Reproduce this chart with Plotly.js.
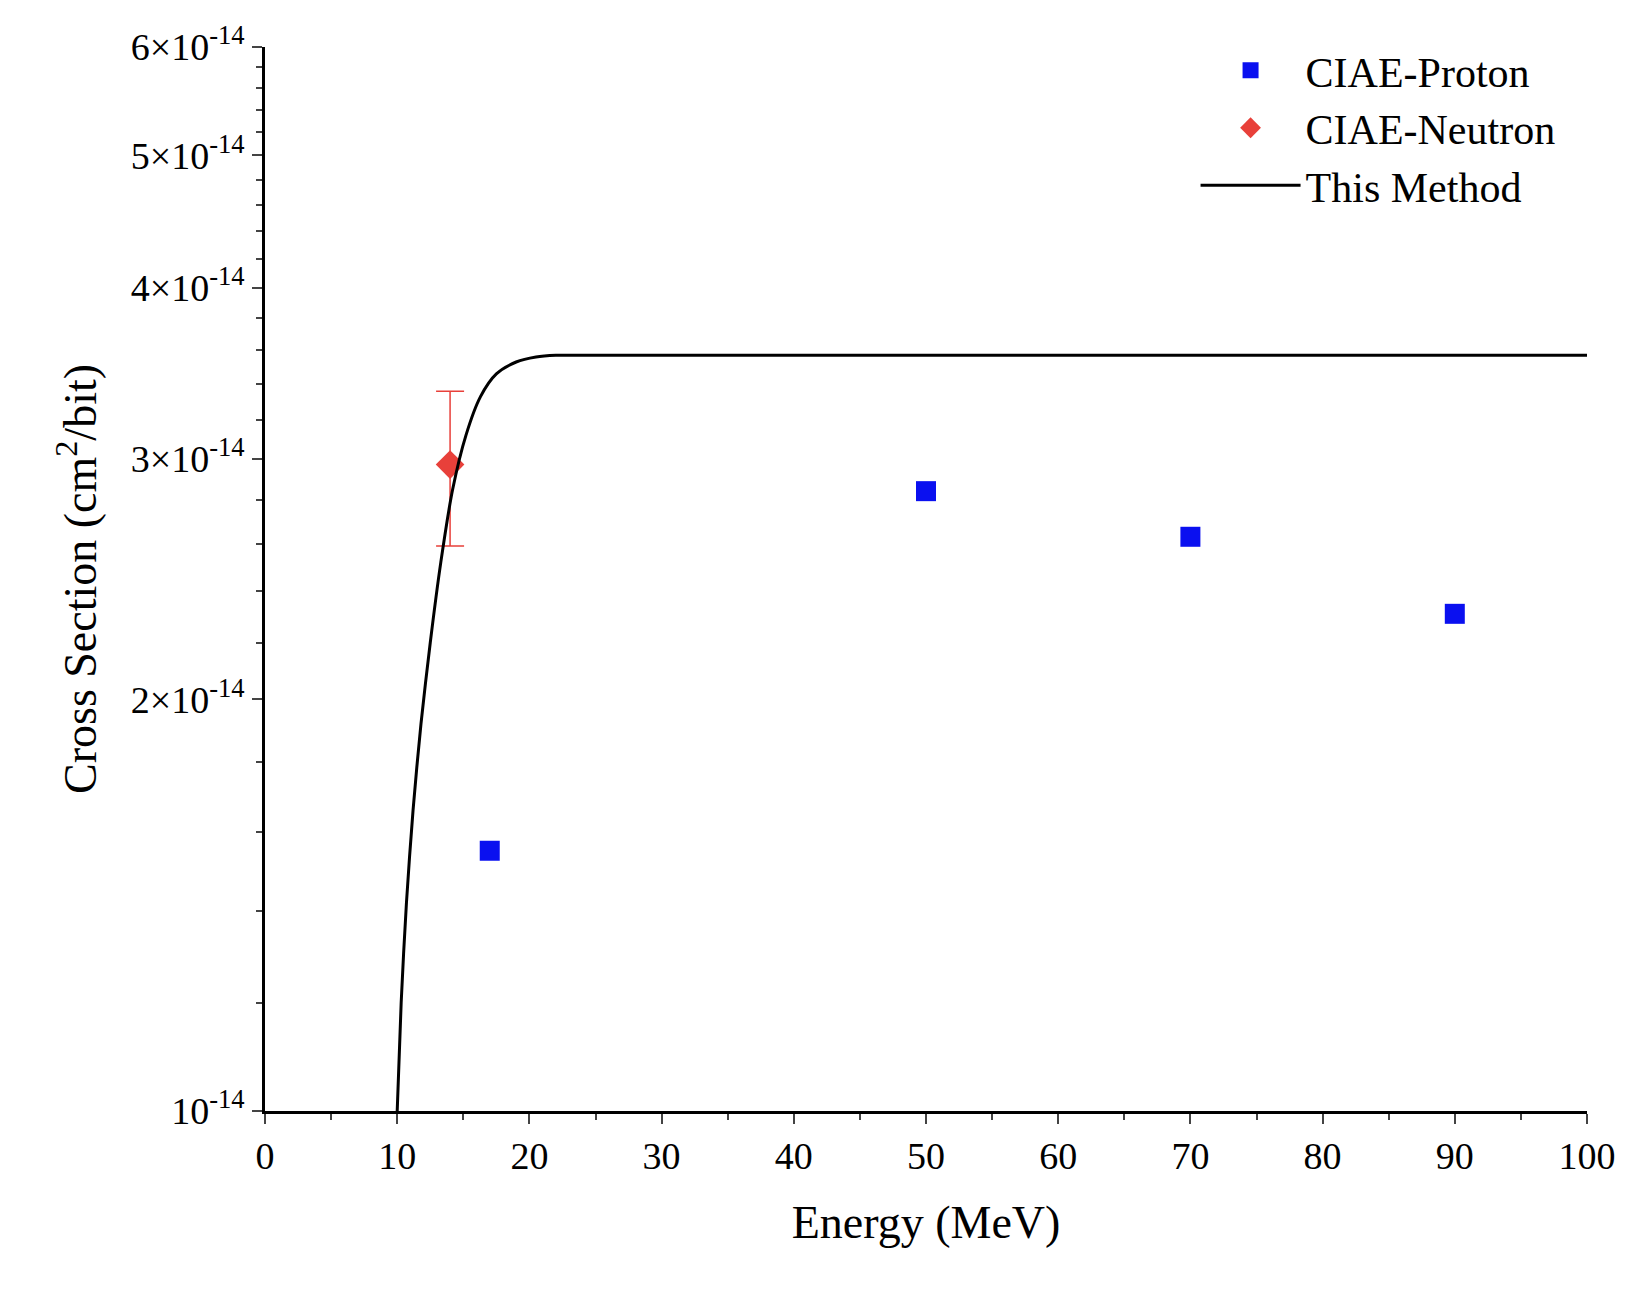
<!DOCTYPE html>
<html><head><script src="https://cdn.plot.ly/plotly-3.0.1.min.js"></script></head>
<body style="margin:0"><div id="plot" style="width:1635px;height:1289px"></div>
<script>
var protonE = [17, 50, 70, 90];
var protonXS = [1.55e-14, 2.84e-14, 2.63e-14, 2.31e-14];
var neutronE = [14];
var neutronXS = [2.97e-14];
var neutronErrUp = [0.39e-14];
var neutronErrDown = [0.38e-14];
var methodE = [10, 10.3, 10.7, 11.2, 11.8, 12.5, 13.3, 14.2, 15.2, 16.3, 17.5, 19, 20.5, 22, 25, 40, 60, 80, 100];
var methodXS = [1.0e-14, 1.2e-14, 1.42e-14, 1.66e-14, 1.92e-14, 2.2e-14, 2.52e-14, 2.85e-14, 3.12e-14, 3.33e-14, 3.46e-14, 3.53e-14, 3.56e-14, 3.57e-14, 3.57e-14, 3.57e-14, 3.57e-14, 3.57e-14, 3.57e-14];
var yTicks = [1e-14, 2e-14, 3e-14, 4e-14, 5e-14, 6e-14];
var yTickText = ['10<sup>-14</sup>', '2×10<sup>-14</sup>', '3×10<sup>-14</sup>', '4×10<sup>-14</sup>', '5×10<sup>-14</sup>', '6×10<sup>-14</sup>'];

var data = [
  {x: protonE, y: protonXS, name: 'CIAE-Proton', mode: 'markers', type: 'scatter',
   marker: {symbol: 'square', color: '#0a10f0', size: 20}},
  {x: neutronE, y: neutronXS, name: 'CIAE-Neutron', mode: 'markers', type: 'scatter',
   marker: {symbol: 'diamond', color: '#e8403a', size: 22},
   error_y: {type: 'data', symmetric: false, array: neutronErrUp, arrayminus: neutronErrDown, color: '#e8403a', thickness: 1.5, width: 14}},
  {x: methodE, y: methodXS, name: 'This Method', mode: 'lines', type: 'scatter',
   line: {color: 'black', width: 3, shape: 'spline', smoothing: 0.8}}
];

var layout = {
  font: {family: 'Liberation Serif', size: 38, color: 'black'},
  margin: {l: 265, r: 48, t: 47, b: 178},
  plot_bgcolor: 'white', paper_bgcolor: 'white',
  xaxis: {range: [0, 100], tickvals: [0,10,20,30,40,50,60,70,80,90,100], ticks: 'outside', ticklen: 10, tickwidth: 2,
    tickfont: {size: 38},
    minor: {dtick: 5, ticks: 'outside', ticklen: 6, tickwidth: 2},
    showline: true, linewidth: 2.5, linecolor: 'black', showgrid: false, zeroline: false,
    title: {text: 'Energy (MeV)', font: {size: 46}, standoff: 30}},
  yaxis: {type: 'log', range: [-14, Math.log10(6e-14)], tickvals: yTicks, ticktext: yTickText, ticks: 'outside', ticklen: 10, tickwidth: 2,
    tickfont: {size: 38},
    minor: {ticks: 'outside', ticklen: 6, tickwidth: 2, tickvals: [1.2e-14,1.4e-14,1.6e-14,1.8e-14,2.2e-14,2.4e-14,2.6e-14,2.8e-14,3.2e-14,3.4e-14,3.6e-14,3.8e-14,4.2e-14,4.4e-14,4.6e-14,4.8e-14,5.2e-14,5.4e-14,5.6e-14,5.8e-14]},
    showline: true, linewidth: 2.5, linecolor: 'black', showgrid: false, zeroline: false,
    title: {text: 'Cross Section (cm<sup>2</sup>/bit)', font: {size: 46}, standoff: 20}},
  legend: {x: 0.98, xanchor: 'right', y: 1.01, yanchor: 'top', bgcolor: 'rgba(0,0,0,0)', font: {size: 42}, itemwidth: 100, tracegroupgap: 10},
  showlegend: true
};
Plotly.newPlot('plot', data, layout, {displayModeBar: false});
</script></body></html>
